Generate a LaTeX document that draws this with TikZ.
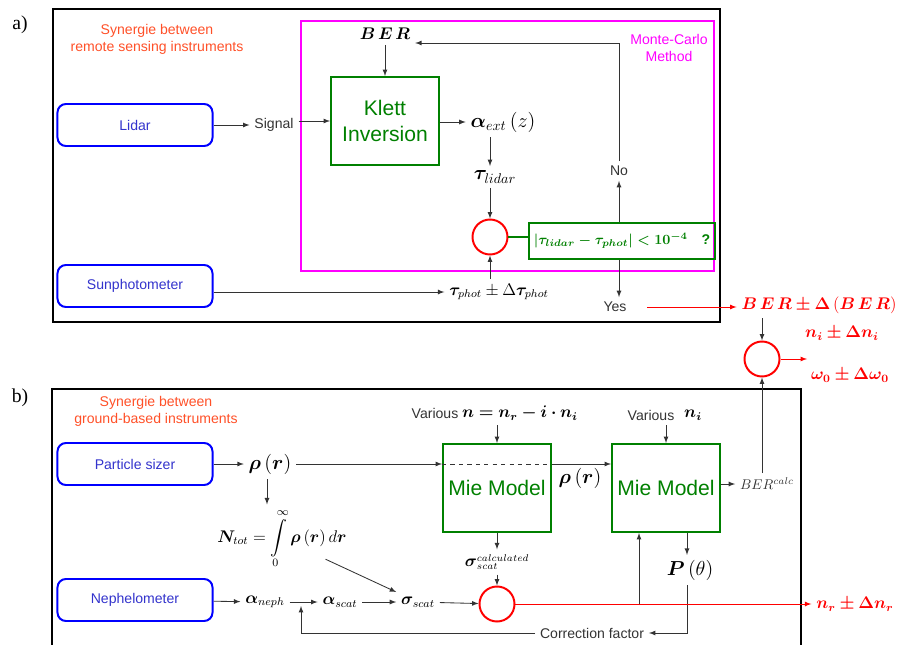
\documentclass[tikz,border=0pt]{standalone}
\usepackage{amsmath}
\usepackage{bm}
\usepackage{fontspec}
\setmainfont{Liberation Sans}
\newfontfamily\panelfont{Liberation Serif}
\usetikzlibrary{arrows, shapes, positioning}
\definecolor{instblue}{RGB}{0,0,255}
\definecolor{insttext}{RGB}{51,51,204}
\definecolor{procgreen}{RGB}{0,128,0}
\definecolor{noteorange}{RGB}{255,80,40}
\definecolor{mcpink}{RGB}{255,0,255}
\definecolor{textgray}{RGB}{51,51,51}
\tikzstyle{frame} = [draw=black, line width=1.8pt]
\tikzstyle{mcframe} = [draw=mcpink, line width=1.2pt]
\tikzstyle{instrument} = [draw=instblue, rounded corners=6pt, line width=1.4pt, text=insttext,
                          minimum width=3.875cm, minimum height=1.05cm]
\tikzstyle{process} = [draw=procgreen, line width=1.4pt, text=procgreen, align=center,
                       minimum width=2.7cm, minimum height=2.2cm, font=\fontsize{15}{18}\selectfont]
\tikzstyle{compare} = [circle, draw=red, line width=1.4pt, minimum size=0.875cm, inner sep=0]
\tikzstyle{criterion} = [draw=procgreen, line width=1.6pt, text=procgreen, minimum width=3.975cm, minimum height=0.9cm]
\tikzstyle{note} = [text=noteorange, align=center]
\tikzstyle{mclabel} = [text=mcpink, align=center]
\tikzstyle{plain} = [text=textgray]
\tikzstyle{result} = [text=red, font=\large]
\tikzstyle{flow} = [->, line width=0.6pt, draw=textgray]
\tikzstyle{redflow} = [->, line width=0.6pt, draw=red]
\newcommand{\convtest}{{\boldmath$\left\vert\tau_{lidar}-\tau_{phot}\right\vert<10^{-4}$}\quad\textbf{?}}

\begin{document}
\begin{tikzpicture}[x=0.025cm, y=-0.025cm, >=latex]
	\useasboundingbox (0,0) rectangle (900,644);
	\clip (0,0) rectangle (900,644);

	% a) remote sensing
	\node (PanelA) at (20,25) {\panelfont\fontsize{14}{16}\selectfont a)};
	\draw[frame] (53,9) rectangle (720,322);
	\draw[mcframe] (301,21) rectangle (714,271);
	\node[note] (NoteA) at (157,39) {Synergie between\\remote sensing instruments};
	\node[mclabel] (MCLabel) at (669,48) {Monte-Carlo\\Method};

	\node[instrument] (Lidar) at (135,125) {Lidar};
	\node[instrument] (Sun) at (135,286) {Sunphotometer};
	\node[plain] (Signal) at (274,125) {Signal};
	\draw[flow] (Lidar) -- (Signal);

	\node[process] (Klett) at (385,121) {Klett\\Inversion};
	\draw[flow] (Signal.east |- Klett.west) -- (Klett.west);
	\node (BER) at (385,34) {\large $\bm{B\,E\,R}$};
	\draw[flow] (BER) -- (Klett);

	\node (Aext) at (503,122) {\Large $\bm{\alpha}_{ext}\left(z\right)$};
	\draw[flow] (Klett.east |- Aext.west) -- (Aext.west);

	\node[compare] (CmpA) at (490,237) {};
	\node (Tlidar) at (495,177) {\Large $\bm{\tau}_{lidar}$};
	\draw[flow] (Aext.south -| CmpA) -- (Tlidar.north -| CmpA);
	\draw[flow] (Tlidar.south -| CmpA) -- (CmpA);

	\node (Tphot) at (499,292) {\large $\bm{\tau}_{phot}\pm\Delta\bm{\tau}_{phot}$};
	\draw[flow] (Tphot.north -| CmpA) -- (CmpA);
	\draw[flow] (Sun.east |- Tphot.west) -- (Tphot.west);

	% convergence test
	\node[criterion] (Test) at (622,241) {\convtest};
	\draw[procgreen, line width=0.8pt] (CmpA.east) -- (CmpA.east -| Test.west);

	\node[plain] (No) at (619,171) {No};
	\coordinate (NoTop) at (619,43);
	\draw[flow] (Test.north -| No) -- (No);
	\draw[textgray, line width=0.6pt] (No) -- (NoTop);
	\draw[flow] (NoTop) -- (NoTop -| BER.east);

	\node[plain] (Yes) at (615,307) {Yes};
	\draw[flow] (Test.south -| No) -- (Yes.north -| No);

	% combined result
	\node[result] (BERres) at (819,305) {$\bm{B\,E\,R\pm\Delta\left(B\,E\,R\right)}$};
	\draw[redflow, shorten <=0.4cm] (Yes.east) -- (Yes.east -| BERres.west);
	\node[compare] (Cmp) at (762,359) {};
	\draw[flow] (BERres.south -| Cmp) -- (Cmp);
	\coordinate (CmpOut) at (807,359);
	\draw[redflow] (Cmp) -- (CmpOut);
	\node[result] (Ni) at (842,333) {$\bm{n_i\pm\Delta n_i}$};
	\node[result] (Omega) at (850,375) {$\bm{\omega_0\pm\Delta\omega_0}$};

	% b) ground-based
	\node (PanelB) at (20,398) {\panelfont\fontsize{14}{16}\selectfont b)};
	\draw[frame] (52,389) rectangle (801,700);
	\node[note] (NoteB) at (156,411) {Synergie between\\ground-based instruments};

	\node[instrument] (Sizer) at (135,464) {Particle sizer};
	\node[instrument] (Neph) at (135,600) {Nephelometer};

	\node (Rho) at (270,464) {\Large $\bm{\rho}\left(\bm{r}\right)$};
	\draw[flow] (Sizer) -- (Rho);

	\node[process] (MieA) at (497,488) {Mie Model};
	\node[process] (MieB) at (666,488) {Mie Model};
	\draw[flow] (Rho) -- (MieA.west |- Rho);
	\draw[textgray, line width=0.6pt, dashed] (MieA.west |- Rho) -- (MieA.east |- Rho);
	\draw[flow] (MieA.east |- Rho) -- (MieB.west |- Rho);
	\node (RhoB) at (580,478) {\Large $\bm{\rho}\left(\bm{r}\right)$};

	\node[plain] (VarA) at (435,413) {Various};
	\node (Nval) at (520,413) {\large $\bm{n=n_r-i\cdot n_i}$};
	\draw[flow] (Nval.south -| MieA) -- (MieA);
	\node[plain] (VarB) at (651,415) {Various};
	\node (NiB) at (693,415) {\large $\bm{n_i}$};
	\draw[flow] (VarB.south -| MieB) -- (MieB);

	\node[plain] (BERcalc) at (767,484) {$BER^{calc}$};
	\draw[flow] (MieB.east |- BERcalc.west) -- (BERcalc.west);
	\draw[flow] (BERcalc.north -| Cmp) -- (Cmp);

	\node (Ntot) at (282,539) {\large $\bm{N}_{tot}=\displaystyle\int\limits_0^\infty\bm{\rho}\left(\bm{r}\right)d\bm{r}$};
	\draw[flow] (Rho.south -| 267,0) -- (Ntot.north -| 267,0);

	\node (Aneph) at (265,602) {\large $\bm{\alpha}_{neph}$};
	\node (Ascat) at (340,602) {\large $\bm{\alpha}_{scat}$};
	\node (Sscat) at (418,602) {\large $\bm{\sigma}_{scat}$};
	\node[compare] (CmpB) at (497,604) {};
	\draw[flow] (Neph) -- (Aneph);
	\draw[flow] (Aneph) -- (Ascat);
	\draw[flow] (Ascat) -- (Sscat);
	\draw[flow] (Sscat) -- (CmpB);
	\draw[flow, shorten <=1.2cm] (Ntot.center) -- (Sscat.north west);

	\node (Sigcalc) at (497,562) {$\mbox{\large$\bm{\sigma}$}_{scat}^{calculated}$};
	\draw[flow] (MieA) -- (Sigcalc.north -| MieA);
	\draw[flow] (Sigcalc.south -| CmpB) -- (CmpB);

	\node (Pth) at (690,570) {\Large $\bm{P}\left(\theta\right)$};
	\coordinate (CorrTurn) at (687,633);
	\draw[flow] (MieB.south -| CorrTurn) -- (Pth.north -| CorrTurn);

	% correction loop
	\node[plain] (Corr) at (592,633) {Correction factor};
	\coordinate (CorrEnd) at (301,633);
	\coordinate (CorrTip) at (301,606);
	\draw[flow] (Pth.south -| CorrTurn) -- (CorrTurn) -- (Corr.east);
	\draw[flow] (Corr.west) -- (CorrEnd) -- (CorrTip);

	\node[result] (Nr) at (855,604) {$\bm{n_r\pm\Delta n_r}$};
	\draw[redflow] (CmpB) -- (Nr.west);
	\coordinate (MieBIn) at (639,604);
	\draw[flow] (MieBIn) -- (MieBIn |- MieB.south);
\end{tikzpicture}
\end{document}
